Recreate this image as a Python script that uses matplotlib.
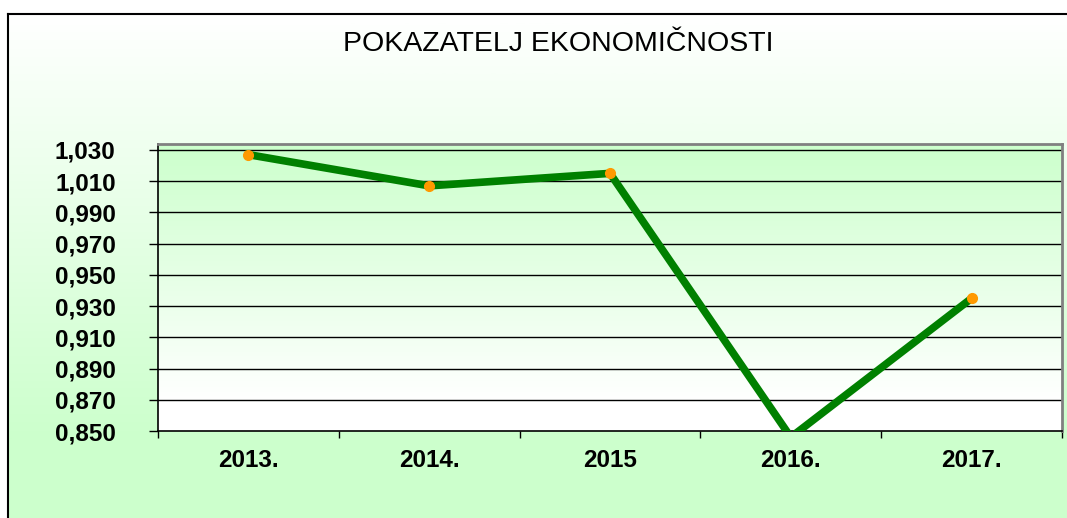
import numpy as np
import matplotlib.pyplot as plt
from matplotlib.ticker import FixedLocator, FuncFormatter
from matplotlib.colors import LinearSegmentedColormap
from matplotlib.lines import Line2D

years = ["2013.", "2014.", "2015", "2016.", "2017."]
values = [1.027, 1.007, 1.015, 0.846, 0.935]
y_ticks = [0.850, 0.870, 0.890, 0.910, 0.930, 0.950, 0.970, 0.990, 1.010, 1.030]

W, H = 1067, 518
fig = plt.figure(figsize=(W / 100, H / 100), dpi=100)
plt.rcParams['font.family'] = ['Liberation Sans', 'DejaVu Sans']

# figure background: white above/left of the frame, gradient white -> light green inside
bg = fig.add_axes([0, 0, 1, 1], zorder=0)
bg.set_xlim(0, W)
bg.set_ylim(H, 0)
bg.axis('off')
green_bg = LinearSegmentedColormap.from_list('g', ['#ffffff', '#ccffcc'])
grad = np.linspace(0, 1, 300).reshape(-1, 1)
bg.imshow(grad, cmap=green_bg, extent=[8, W, 440, 14], aspect='auto', zorder=0)
bg.fill_between([8, W], 440, H, color='#ccffcc', zorder=0)
bg.add_line(Line2D([8, W], [14, 14], color='black', lw=1.5))
bg.add_line(Line2D([8, 8], [14, H], color='black', lw=1.5))

# plot area
ax = fig.add_axes([158 / W, 1 - 431 / H, (1062 - 158) / W, (431 - 144) / H], zorder=1)
ax.set_facecolor('none')
x = np.arange(len(years))
ax.set_xlim(-0.5, len(years) - 0.5)
ax.set_ylim(0.850, 1.0338)

plot_cmap = LinearSegmentedColormap.from_list(
    'p', [(0, '#ffffff'), (0.1, '#ffffff'), (1, '#ccffcc')])
ax.imshow(np.linspace(0, 1, 300).reshape(-1, 1), cmap=plot_cmap, origin='lower',
          extent=[-0.5, len(years) - 0.5, 0.850, 1.0338], aspect='auto', zorder=0)

for t in y_ticks[1:]:
    ax.axhline(t, color='black', lw=1, zorder=1)

ax.plot(x, values, color='#008000', lw=5.5, marker='o', markersize=7,
        markerfacecolor='#ff9900', markeredgecolor='#ff9900', zorder=3,
        solid_joinstyle='miter')

ax.yaxis.set_major_locator(FixedLocator(y_ticks))
ax.yaxis.set_major_formatter(FuncFormatter(lambda v, p: f"{v:.3f}".replace('.', ',')))
ax.tick_params(axis='y', length=6.5, width=1, pad=24, labelsize=17.5)
for lab in ax.get_yticklabels():
    lab.set_fontweight('bold')

ax.set_xticks(x)
ax.set_xticklabels(years, fontsize=17.5, fontweight='bold')
ax.tick_params(axis='x', length=0, pad=13)
ax.set_xticks(np.arange(-0.5, len(years), 1), minor=True)
ax.tick_params(axis='x', which='minor', length=5, width=1, color='black')

ax.spines['left'].set_color('black')
ax.spines['bottom'].set_color('black')
ax.spines['left'].set_linewidth(1.2)
ax.spines['bottom'].set_linewidth(1.2)
ax.spines['top'].set_color('#808080')
ax.spines['right'].set_color('#808080')
ax.spines['top'].set_linewidth(2)
ax.spines['right'].set_linewidth(2)

fig.text(558 / W, 1 - 44 / H, "POKAZATELJ EKONOMIČNOSTI", fontsize=20.5,
         ha='center', va='center')

fig.savefig("out.png", dpi=100)
